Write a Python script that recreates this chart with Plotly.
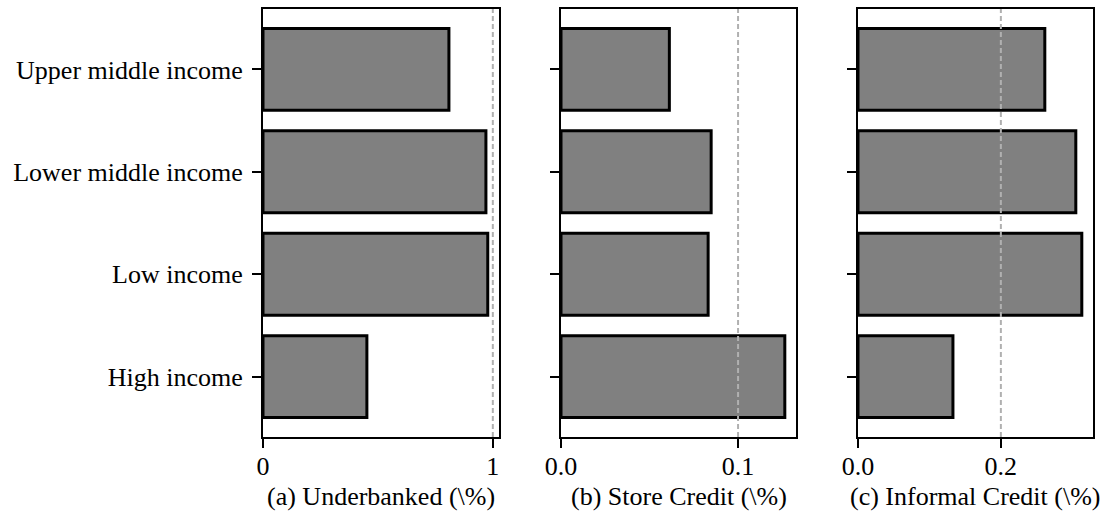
import plotly.graph_objects as go

# Income groups, bottom to top
categories = ["High income", "Low income", "Lower middle income", "Upper middle income"]

underbanked = [0.452, 0.978, 0.970, 0.809]
store_credit = [0.1264, 0.0831, 0.0848, 0.0612]
informal_credit = [0.1329, 0.3133, 0.3049, 0.2615]

panel_titles = ["(a) Underbanked (\\%)", "(b) Store Credit (\\%)", "(c) Informal Credit (\\%)"]
reference_lines = [1.0, 0.1, 0.2]
tick_values = [[0, 1], [0.0, 0.1], [0.0, 0.2]]
tick_labels = [["0", "1"], ["0.0", "0.1"], ["0.0", "0.2"]]

series = [underbanked, store_credit, informal_credit]

FONT = "Liberation Serif, Times New Roman, serif"
W, H = 1107, 519
x_domains = [(263 / W, 499 / W), (561 / W, 796 / W), (858 / W, 1093 / W)]
y_domain = (1 - 437 / H, 1 - 9 / H)

fig = go.Figure()

for i, vals in enumerate(series):
    n = "" if i == 0 else str(i + 1)
    fig.add_trace(go.Bar(
        x=vals, y=categories, orientation="h", width=0.8,
        marker=dict(color="#808080", line=dict(color="black", width=3)),
        xaxis="x" + n, yaxis="y" + n, showlegend=False,
    ))
    xmax = max(vals) * 1.05
    axis_common = dict(
        showline=True, linecolor="black", linewidth=2, mirror=True,
        ticks="outside", ticklen=9, tickwidth=1.5, tickcolor="black",
        showgrid=False, zeroline=False, automargin=False,
        tickfont=dict(family=FONT, size=26, color="black"),
    )
    fig.layout["xaxis" + n] = dict(
        domain=x_domains[i], range=[0, xmax], anchor="y" + n,
        tickvals=tick_values[i], ticktext=tick_labels[i], ticklabelstandoff=-4,
        **axis_common,
    )
    fig.layout["yaxis" + n] = dict(
        domain=y_domain, range=[-0.59, 3.59], anchor="x" + n,
        type="category", categoryorder="array", categoryarray=categories,
        showticklabels=(i == 0), ticklabelstandoff=4,
        **axis_common,
    )
    fig.add_shape(
        type="line", xref="x" + n, yref="y" + n + " domain",
        x0=reference_lines[i], x1=reference_lines[i], y0=0, y1=1,
        line=dict(color="#b0b0b0", width=2, dash="5px,3px"), layer="above",
    )
    # panel caption under each axis
    fig.add_annotation(
        text=panel_titles[i], xref="x" + n + " domain", yref="paper",
        x=0.5, y=1 - 496 / H, xanchor="center", yanchor="middle",
        showarrow=False, font=dict(family=FONT, size=26, color="black"),
    )

fig.update_layout(
    width=W, height=H, margin=dict(l=0, r=0, t=0, b=0),
    plot_bgcolor="white", paper_bgcolor="white", bargap=0.2,
    font=dict(family=FONT, size=26, color="black"),
)

fig.write_html("out.html")
